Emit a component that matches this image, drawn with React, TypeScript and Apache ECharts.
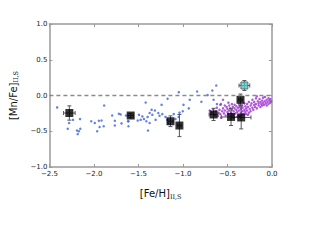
import React, { useEffect, useRef } from "react";
import * as echarts from "echarts";

// Blue sample points [Fe/H], [Mn/Fe]
const bluePoints: number[][] = [
  [-2.413, -0.167], [-1.885, -0.14], [-2.279, -0.385], [-2.235, -0.34], [-2.156, -0.33],
  [-2.294, -0.465], [-2.153, -0.465], [-2.168, -0.5], [-2.182, -0.54], [-2.03, -0.36],
  [-1.99, -0.385], [-1.944, -0.353], [-1.914, -0.35], [-1.89, -0.43], [-1.936, -0.44],
  [-1.963, -0.5], [-1.795, -0.28], [-1.765, -0.353], [-1.72, -0.255], [-1.7, -0.265],
  [-1.765, -0.42], [-1.69, -0.39], [-1.64, -0.28], [-1.617, -0.36], [-2.19, -0.49],
  [-1.047, 0.047], [-0.841, 0.056], [-1.419, -0.098], [-1.24, -0.13], [-1.173, -0.046],
  [-0.793, -0.088], [-0.924, -0.06], [-0.994, -0.13], [-0.935, -0.18], [-1.002, -0.22],
  [-1.039, -0.24], [-1.103, -0.26], [-1.352, -0.2], [-1.315, -0.21], [-1.374, -0.245],
  [-1.344, -0.27], [-1.277, -0.245], [-1.232, -0.26], [-1.263, -0.283], [-1.397, -0.3],
  [-1.456, -0.293], [-1.475, -0.34], [-1.494, -0.27], [-1.438, -0.33], [-1.411, -0.36],
  [-1.374, -0.385], [-1.307, -0.34], [-1.508, -0.35], [-1.612, -0.36], [-1.612, -0.43],
  [-1.393, -0.49], [-1.196, -0.3], [-1.177, -0.34], [-1.165, -0.395], [-1.084, -0.33],
  [-1.047, -0.3], [-0.626, 0.14], [-0.67, 0.07], [-0.656, -0.06], [-0.618, -0.12],
  [-0.573, -0.12], [-0.723, 0.006],
];

// Purple sample points
const purplePoints: number[][] = [
  [-0.7, -0.21], [-0.68, -0.24], [-0.66, -0.19], [-0.64, -0.27], [-0.63, -0.22], [-0.62, -0.17],
  [-0.61, -0.29], [-0.6, -0.24], [-0.59, -0.2], [-0.58, -0.26], [-0.57, -0.31], [-0.56, -0.22],
  [-0.55, -0.06], [-0.55, -0.18], [-0.54, -0.25], [-0.53, -0.21], [-0.52, -0.28], [-0.51, -0.16],
  [-0.5, -0.23], [-0.5, -0.19], [-0.49, -0.26], [-0.48, -0.14], [-0.48, -0.21], [-0.47, -0.18],
  [-0.46, -0.24], [-0.45, -0.12], [-0.45, -0.2], [-0.44, -0.16], [-0.44, -0.27], [-0.43, -0.22],
  [-0.42, -0.18], [-0.42, -0.13], [-0.41, -0.25], [-0.4, -0.2], [-0.4, -0.15], [-0.39, -0.23],
  [-0.38, -0.17], [-0.38, -0.28], [-0.37, -0.12], [-0.37, -0.21], [-0.36, -0.16], [-0.35, -0.24],
  [-0.35, -0.19], [-0.34, -0.13], [-0.33, -0.22], [-0.33, -0.17], [-0.32, -0.26], [-0.31, -0.11],
  [-0.31, -0.2], [-0.3, -0.15], [-0.3, -0.23], [-0.29, -0.18], [-0.28, -0.12], [-0.28, -0.21],
  [-0.27, -0.16], [-0.26, -0.24], [-0.26, -0.09], [-0.25, -0.19], [-0.24, -0.14], [-0.24, -0.22],
  [-0.23, -0.11], [-0.22, -0.17], [-0.22, -0.06], [-0.21, -0.2], [-0.2, -0.13], [-0.2, -0.09],
  [-0.19, -0.16], [-0.18, -0.04], [-0.18, -0.12], [-0.17, -0.01], [-0.17, -0.18], [-0.16, -0.08],
  [-0.15, -0.14], [-0.15, -0.11], [-0.14, -0.05], [-0.13, -0.16], [-0.13, -0.09], [-0.12, -0.12],
  [-0.11, -0.07], [-0.11, -0.14], [-0.1, -0.03], [-0.1, -0.1], [-0.09, -0.13], [-0.08, -0.02],
  [-0.08, -0.08], [-0.07, -0.11], [-0.06, -0.06], [-0.06, -0.14], [-0.05, -0.09], [-0.04, -0.04],
  [-0.04, -0.12], [-0.03, -0.07], [-0.02, -0.1], [-0.02, -0.05], [-0.01, -0.08], [-0.46, -0.29],
  [-0.43, -0.31], [-0.39, -0.3], [-0.36, -0.29], [-0.34, -0.27], [-0.29, -0.26], [-0.27, -0.27],
  [-0.53, -0.14], [-0.49, -0.1], [-0.58, -0.13],
];

// Black squares with error bars
const sqFeH = [-2.276, -1.587, -1.14, -1.04, -0.656, -0.46, -0.346, -0.354];
const sqMnFe = [-0.245, -0.28, -0.36, -0.42, -0.265, -0.3, -0.307, -0.06];
const sqFeErr = [0.065, 0.03, 0.03, 0.02, 0.05, 0.11, 0.11, 0.02];
const sqMnErr = [0.1, 0.03, 0.075, 0.155, 0.085, 0.12, 0.16, 0.08];

// Cyan square
const cyFeH = [-0.31];
const cyMnFe = [0.14];
const cyFeErr = [0.06];
const cyMnErr = [0.07];

const xTicks = { min: -2.5, max: 0, interval: 0.5 };
const yTicks = { min: -1, max: 1, interval: 0.5 };

const fmt = (v: number) => (v < 0 ? "\u2212" : "") + Math.abs(v).toFixed(1);

export default function App() {
  const ref = useRef<HTMLDivElement>(null);
  useEffect(() => {
    if (!ref.current) return;
    const chart = echarts.init(ref.current, null, { renderer: "svg" });
    const frame = "#9a9a9a";
    const errData = [
      ...sqFeH.map((x, i) => [x, sqMnFe[i], sqFeErr[i], sqMnErr[i]]),
      ...cyFeH.map((x, i) => [x, cyMnFe[i], cyFeErr[i], cyMnErr[i]]),
    ];
    const baseAxis = {
      axisLine: { show: true, onZero: false, lineStyle: { color: frame, width: 1.5 } },
      axisTick: { show: true, inside: true, length: 3, lineStyle: { color: frame, width: 1 } },
      splitLine: { show: false },
    };
    chart.setOption({
      animation: false,
      textStyle: { fontFamily: "DejaVu Sans" },
      grid: { left: 48, right: 48, top: 24, bottom: 73 },
      xAxis: [
        {
          type: "value",
          ...xTicks,
          ...baseAxis,
          position: "bottom",
          axisLabel: { fontSize: 7, color: "#222", margin: 3, formatter: fmt },
          name: "{a|[Fe/H]}{b|II,S}",
          nameLocation: "middle",
          nameGap: 20,
          nameTextStyle: {
            rich: {
              a: { fontSize: 10, color: "#111", fontFamily: "DejaVu Sans" },
              b: { fontSize: 6.5, color: "#111", fontFamily: "DejaVu Serif", padding: [6, 0, 0, 0] },
            },
          },
        },
        {
          type: "value",
          ...xTicks,
          ...baseAxis,
          position: "top",
          axisLabel: { show: false },
        },
      ],
      yAxis: [
        {
          type: "value",
          ...yTicks,
          ...baseAxis,
          position: "left",
          axisLabel: { fontSize: 7, color: "#222", margin: 2, formatter: fmt },
          name: "{a|[Mn/Fe]}{b|II,S}",
          nameLocation: "middle",
          nameRotate: 90,
          nameGap: 27,
          nameTextStyle: {
            rich: {
              a: { fontSize: 10, color: "#111", fontFamily: "DejaVu Sans" },
              b: { fontSize: 6.5, color: "#111", fontFamily: "DejaVu Serif", padding: [6, 0, 0, 0] },
            },
          },
        },
        {
          type: "value",
          ...yTicks,
          ...baseAxis,
          position: "right",
          axisLabel: { show: false },
        },
      ],
      series: [
        {
          type: "scatter",
          data: bluePoints,
          symbol: "circle",
          symbolSize: 2.5,
          itemStyle: { color: "#3a62e6" },
          z: 2,
          markLine: {
            silent: true,
            symbol: ["none", "none"],
            label: { show: false },
            lineStyle: { type: [4, 3], color: "#8a8a8a", width: 1.3 },
            data: [{ yAxis: 0 }],
          },
        },
        {
          type: "scatter",
          data: purplePoints,
          symbol: "circle",
          symbolSize: 2.5,
          itemStyle: { color: "#9b2fd2" },
          z: 2,
        },
        {
          type: "custom",
          data: errData,
          z: 3,
          renderItem: (params: any, api: any) => {
            const x = api.value(0), y = api.value(1), ex = api.value(2), ey = api.value(3);
            const l = api.coord([x - ex, y]);
            const r = api.coord([x + ex, y]);
            const t = api.coord([x, y + ey]);
            const b = api.coord([x, y - ey]);
            const cap = 2;
            const style = { stroke: "#555", lineWidth: 1 };
            const ln = (x1: number, y1: number, x2: number, y2: number) => ({
              type: "line",
              shape: { x1, y1, x2, y2 },
              style,
            });
            return {
              type: "group",
              children: [
                ln(l[0], l[1], r[0], r[1]),
                ln(t[0], t[1], b[0], b[1]),
                ln(t[0] - cap, t[1], t[0] + cap, t[1]),
                ln(b[0] - cap, b[1], b[0] + cap, b[1]),
                ln(l[0], l[1] - cap, l[0], l[1] + cap),
                ln(r[0], r[1] - cap, r[0], r[1] + cap),
              ],
            };
          },
        },
        {
          type: "scatter",
          data: sqFeH.map((x, i) => [x, sqMnFe[i]]),
          symbol: "rect",
          symbolSize: 8,
          itemStyle: { color: "#000" },
          z: 4,
        },
        {
          type: "scatter",
          data: cyFeH.map((x, i) => [x, cyMnFe[i]]),
          symbol: "rect",
          symbolSize: 7,
          itemStyle: { color: "#4fc9c9", borderColor: "#555", borderWidth: 1 },
          z: 4,
        },
      ],
    });
    return () => chart.dispose();
  }, []);
  return (
    <div
      ref={ref}
      style={{ position: "fixed", left: 0, top: 0, width: 320, height: 240, background: "#fff" }}
    />
  );
}
